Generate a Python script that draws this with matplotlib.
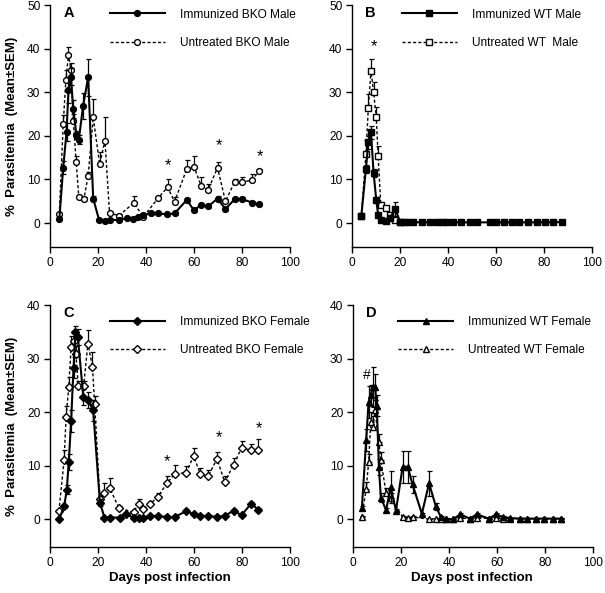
import matplotlib
matplotlib.use("Agg")
import matplotlib.pyplot as plt
import numpy as np

plt.rcParams['font.family'] = ['Liberation Sans', 'DejaVu Sans']

# ---------------- Panel A : BKO Male ----------------
a_imm_day = [3.9, 5.5, 6.9, 7.7, 8.7, 9.7, 11.0, 12.0, 13.8, 15.9, 18.0, 20.4, 22.9, 24.8, 28.7,
             31.9, 34.5, 36.6, 38.9, 41.9, 45.0, 48.8, 51.9, 57.0, 60.0, 63.0, 65.9, 69.8, 73.1,
             77.0, 80.0, 84.1, 87.2]
a_imm_val = [1.0, 12.7, 20.9, 30.5, 33.6, 26.1, 20.2, 19.1, 26.9, 33.4, 5.6, 0.8, 0.5, 0.7, 0.7,
             1.1, 1.0, 1.4, 1.8, 2.2, 2.2, 2.0, 2.2, 5.3, 2.9, 4.2, 3.8, 5.6, 3.2,
             5.5, 5.5, 4.7, 4.3]
a_imm_err = [0.3, 1.5, 2.0, 3.0, 2.0, 2.0, 1.0, 1.0, 3.0, 4.2, 0.5, 0.2, 0.2, 0.2, 0.2,
             0.2, 0.2, 0.3, 0.3, 0.3, 0.3, 0.3, 0.3, 0.5, 0.4, 0.4, 0.4, 0.6, 0.4,
             0.4, 0.4, 0.4, 0.4]
a_unt_day = [3.9, 5.5, 6.6, 7.7, 8.7, 9.7, 10.9, 12.0, 14.1, 15.9, 18.0, 20.7, 22.9, 24.8, 28.7,
             34.9, 38.9, 45.0, 49.0, 51.9, 57.0, 60.0, 63.0, 65.9, 69.8, 73.1, 77.0, 80.0,
             84.1, 87.2]
a_unt_val = [2.1, 22.6, 32.7, 38.6, 35.2, 23.5, 14.1, 5.9, 5.5, 10.8, 24.2, 13.5, 18.9, 2.3, 1.7,
             4.6, 1.4, 5.7, 8.2, 4.9, 12.4, 12.9, 8.5, 7.6, 12.7, 5.0, 9.5, 9.4,
             9.8, 12.0]
a_unt_err = [0.3, 2.2, 2.4, 1.8, 1.5, 1.5, 1.2, 0.5, 0.5, 1.0, 4.2, 2.9, 5.5, 0.3, 0.3,
             1.5, 0.3, 0.4, 2.0, 1.0, 2.1, 2.5, 2.1, 1.4, 1.4, 0.5, 0.5, 1.1,
             1.5, 0.5]
a_stars = [(49.0, 13.1), (70.3, 17.7), (87.3, 15.3)]

# ---------------- Panel B : WT Male ----------------
b_imm_day = [3.9, 5.8, 6.8, 7.9, 9.0, 10.1, 10.9, 12.0, 14.0, 15.9, 18.0, 20.1, 21.7, 23.5, 25.3,
             29.0, 32.3, 35.3, 37.4, 39.2, 42.2, 45.4, 49.2, 52.0, 57.5, 60.2, 63.3, 66.5,
             69.5, 73.4, 77.1, 80.3, 83.8, 87.3]
b_imm_val = [1.7, 12.4, 18.5, 20.8, 11.5, 5.3, 1.9, 0.6, 0.4, 1.1, 3.3, 0.15, 0.15, 0.2, 0.2,
             0.15, 0.15, 0.15, 0.2, 0.25, 0.15, 0.15, 0.15, 0.15, 0.15, 0.15, 0.15, 0.15,
             0.15, 0.15, 0.15, 0.15, 0.2, 0.2]
b_imm_err = [0.2, 1.0, 1.5, 1.5, 1.0, 0.6, 0.3, 0.2, 0.2, 0.3, 1.6, 0.1, 0.1, 0.1, 0.1,
             0.1, 0.1, 0.1, 0.1, 0.1, 0.1, 0.1, 0.1, 0.1, 0.1, 0.1, 0.1, 0.1,
             0.1, 0.1, 0.1, 0.1, 0.1, 0.1]
b_unt_day = [3.9, 5.8, 6.8, 7.9, 9.0, 10.1, 10.9, 12.0, 14.0, 15.9, 18.0, 20.1]
b_unt_val = [1.7, 15.9, 26.3, 34.9, 30.0, 24.3, 15.3, 4.2, 3.4, 1.9, 0.6, 0.15]
b_unt_err = [0.2, 3.2, 3.4, 2.7, 2.3, 2.3, 2.3, 0.5, 0.4, 0.3, 0.3, 0.1]
b_stars = [(9.0, 40.5)]

# ---------------- Panel C : BKO Female ----------------
c_imm_day = [3.9, 5.9, 7.0, 7.8, 8.8, 9.8, 10.6, 11.6, 13.9, 15.8, 18.0, 20.8, 22.7, 25.2, 29.0,
             31.8, 34.8, 36.9, 38.7, 41.8, 44.8, 48.7, 51.9, 56.8, 59.8, 62.7, 65.9, 69.6,
             72.8, 76.5, 79.8, 83.8, 86.7]
c_imm_val = [0.1, 2.4, 5.5, 10.6, 18.3, 28.3, 35.0, 34.0, 22.8, 22.2, 20.3, 3.1, 0.3, 0.3, 0.3,
             0.9, 0.3, 0.2, 0.25, 0.6, 0.6, 0.4, 0.4, 1.5, 0.9, 0.6, 0.6, 0.4,
             0.6, 1.6, 0.75, 2.9, 1.8]
c_imm_err = [0.1, 0.3, 0.8, 1.5, 2.0, 2.0, 1.0, 1.5, 1.5, 1.5, 2.0, 0.6, 0.1, 0.1, 0.1,
             0.2, 0.1, 0.1, 0.1, 0.1, 0.1, 0.1, 0.1, 0.2, 0.2, 0.1, 0.1, 0.1,
             0.1, 0.2, 0.2, 0.3, 0.3]
c_unt_day = [3.7, 5.9, 6.7, 7.8, 8.8, 9.8, 10.8, 11.8, 14.0, 15.8, 17.7, 18.6, 20.8, 22.7, 24.9,
             28.7, 34.8, 36.9, 38.7, 41.8, 44.8, 48.7, 51.9, 56.8, 59.8, 62.7, 65.9, 69.6,
             72.8, 76.5, 79.8, 83.8, 86.7]
c_unt_val = [1.5, 11.1, 19.1, 24.6, 32.2, 33.3, 30.8, 24.8, 24.8, 32.8, 28.4, 21.5, 3.8, 4.9, 5.8,
             2.1, 1.3, 2.9, 1.9, 2.9, 4.1, 6.7, 8.4, 8.7, 11.8, 8.4, 8.0, 11.3,
             6.9, 10.2, 13.3, 12.9, 13.0]
c_unt_err = [0.3, 1.9, 2.0, 2.0, 2.0, 1.5, 1.5, 1.0, 1.0, 2.5, 2.8, 1.5, 0.6, 1.8, 1.8,
             0.3, 0.3, 0.8, 0.3, 0.3, 0.8, 1.3, 1.7, 1.2, 1.4, 1.2, 1.2, 1.3,
             1.1, 1.3, 1.3, 1.2, 1.9]
c_stars = [(48.9, 10.8), (70.6, 15.3), (87.0, 16.9)]

# ---------------- Panel D : WT Female ----------------
d_imm_day = [3.7, 5.5, 6.5, 7.4, 8.3, 9.2, 9.9, 10.8, 11.6, 13.8, 15.7, 17.9, 20.7, 22.8, 24.8,
             28.7, 31.7, 34.5, 36.6, 38.6, 41.7, 44.7, 48.6, 51.6, 56.6, 59.6, 62.5, 65.5,
             69.7, 72.6, 76.3, 79.7, 83.4, 86.8]
d_imm_val = [2.1, 14.8, 21.9, 23.1, 24.7, 24.7, 21.2, 9.7, 4.0, 1.7, 6.0, 1.6, 9.8, 9.8, 6.5,
             1.0, 6.7, 2.4, 0.4, 0.0, 0.0, 0.9, 0.1, 0.9, 0.1, 0.9, 0.4, 0.2,
             0.1, 0.1, 0.1, 0.1, 0.1, 0.1]
d_imm_err = [0.3, 2.0, 3.0, 2.0, 3.8, 2.5, 2.0, 1.5, 0.8, 0.3, 3.0, 0.3, 3.0, 3.0, 1.6,
             0.2, 2.3, 0.6, 0.1, 0.1, 0.1, 0.2, 0.1, 0.2, 0.1, 0.2, 0.1, 0.1,
             0.1, 0.1, 0.1, 0.1, 0.1, 0.1]
d_unt_day = [3.7, 5.5, 6.5, 7.4, 8.3, 9.2, 10.8, 11.6, 13.8, 15.7, 20.7, 22.8, 24.8, 31.7, 34.5,
             36.6, 38.6, 41.7, 44.7, 48.6, 51.6, 56.6, 59.6, 62.5, 65.5, 69.7, 72.6, 76.3,
             79.7, 83.4, 86.8]
d_unt_val = [0.4, 5.7, 10.6, 18.1, 17.2, 20.3, 14.4, 11.0, 4.9, 4.0, 0.4, 0.3, 0.4, 0.0, 0.1,
             0.1, 0.1, 0.1, 0.2, 0.1, 0.3, 0.1, 0.2, 0.1, 0.1, 0.1, 0.1, 0.1,
             0.1, 0.1, 0.1]
d_unt_err = [0.1, 1.3, 1.6, 2.0, 2.0, 2.0, 1.5, 1.5, 1.0, 0.8, 0.1, 0.1, 0.1, 0.1, 0.1,
             0.1, 0.1, 0.1, 0.1, 0.1, 0.1, 0.1, 0.1, 0.1, 0.1, 0.1, 0.1, 0.1,
             0.1, 0.1, 0.1]
d_marks = [(5.8, 27.0, '#')]

x_ticks = [0, 20, 40, 60, 80, 100]

W, H = 605, 593
fig = plt.figure(figsize=(W / 100, H / 100), dpi=100)


def px_axes(l, t, r, b):
    return fig.add_axes([l / W, 1 - b / H, (r - l) / W, (b - t) / H])


dash = (0, (2.2, 1.6))
FS = 8.6


def panel(ax, letter, ymax, ymin, yticks, imm, unt, marker, ms_imm, ms_unt,
          lab_imm, lab_unt, stars, leg_anchor):
    di, vi, ei = imm
    du, vu, eu = unt
    # untreated (open markers, dashed)
    ax.errorbar(du, vu, yerr=[np.zeros(len(eu)), eu], fmt='none', ecolor='black',
                elinewidth=0.9, capsize=1.8, capthick=0.9, zorder=2)
    lu, = ax.plot(du, vu, linestyle=dash, color='black', lw=1.0, marker=marker,
                  ms=ms_unt, mfc='white', mec='black', mew=1.0, zorder=3, label=lab_unt)
    # immunized (filled markers, solid)
    ax.errorbar(di, vi, yerr=ei, fmt='none', ecolor='black', elinewidth=0.9,
                capsize=1.8, capthick=0.9, zorder=4)
    li, = ax.plot(di, vi, linestyle='-', color='black', lw=1.5, marker=marker,
                  ms=ms_imm, mfc='black', mec='black', zorder=5, label=lab_imm)
    for s in stars:
        if len(s) == 3:
            ax.text(s[0], s[1], s[2], ha='center', va='center', fontsize=10)
        else:
            ax.text(s[0], s[1], '*', ha='center', va='center', fontsize=12)
    ax.set_xlim(0, 100)
    ax.set_ylim(ymin, ymax)
    ax.set_xticks(x_ticks)
    ax.set_yticks(yticks)
    for sp in ['top', 'right']:
        ax.spines[sp].set_visible(False)
    for sp in ['left', 'bottom']:
        ax.spines[sp].set_linewidth(1.0)
    ax.tick_params(direction='out', length=4, width=1.0, labelsize=FS, pad=3)
    ax.text(0.055, 0.965, letter, transform=ax.transAxes, fontsize=10.5,
            fontweight='bold', ha='left', va='center')
    ax.legend(handles=[li, lu], loc='upper left', bbox_to_anchor=leg_anchor,
              frameon=False, fontsize=FS, handlelength=4.6, handletextpad=1.25,
              labelspacing=1.35, borderpad=0, borderaxespad=0, numpoints=1)


axA = px_axes(50, 5, 290, 247)
axB = px_axes(352, 5, 592, 247)
axC = px_axes(50, 305, 290, 547)
axD = px_axes(353, 305, 593, 547)

panel(axA, 'A', 50, -5.5, [0, 10, 20, 30, 40, 50],
      (a_imm_day, a_imm_val, a_imm_err), (a_unt_day, a_unt_val, a_unt_err),
      'o', 4.2, 4.2, 'Immunized BKO Male', 'Untreated BKO Male', a_stars, (0.25, 0.985))
panel(axB, 'B', 50, -5.5, [0, 10, 20, 30, 40, 50],
      (b_imm_day, b_imm_val, b_imm_err), (b_unt_day, b_unt_val, b_unt_err),
      's', 4.0, 4.0, 'Immunized WT Male', 'Untreated WT  Male', b_stars, (0.208, 0.985))
panel(axC, 'C', 40, -5.2, [0, 10, 20, 30, 40],
      (c_imm_day, c_imm_val, c_imm_err), (c_unt_day, c_unt_val, c_unt_err),
      'D', 3.6, 3.6, 'Immunized BKO Female', 'Untreated BKO Female', c_stars, (0.25, 0.955))
panel(axD, 'D', 40, -5.2, [0, 10, 20, 30, 40],
      (d_imm_day, d_imm_val, d_imm_err), (d_unt_day, d_unt_val, d_unt_err),
      '^', 4.2, 3.8, 'Immunized WT Female', 'Untreated WT Female', d_marks, (0.188, 0.955))

ylab = '%  Parasitemia  (Mean\u00b1SEM)'
fig.text(12 / W, 1 - 126 / H, ylab, rotation=90, ha='center', va='center',
         fontsize=9.5, fontweight='bold')
fig.text(12 / W, 1 - 426 / H, ylab, rotation=90, ha='center', va='center',
         fontsize=9.5, fontweight='bold')
fig.text(170 / W, 1 - 578 / H, 'Days post infection', ha='center', va='center',
         fontsize=9.5, fontweight='bold')
fig.text(472 / W, 1 - 578 / H, 'Days post infection', ha='center', va='center',
         fontsize=9.5, fontweight='bold')

fig.savefig('out.png', dpi=100)
